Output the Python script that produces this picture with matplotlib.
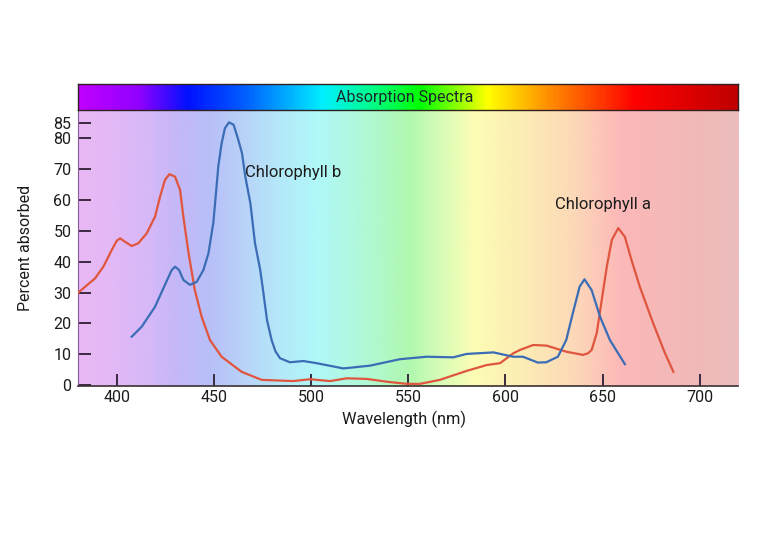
import numpy as np
import matplotlib
matplotlib.use("Agg")
import matplotlib.pyplot as plt
from matplotlib.colors import LinearSegmentedColormap

plt.rcParams['font.family'] = ['Roboto', 'DejaVu Sans']

# wavelength (nm) / percent absorbed
chl_a_nm = [380, 383.5, 388.6, 392.9, 397.2, 399.8, 401.5, 404, 407.5, 410.9, 415.2,
            419.5, 422.1, 424.6, 426.9, 429.8, 432.4, 434.1, 436.8, 440, 443.5, 447.8,
            453.8, 464.1, 474.4, 490.7, 499.3, 509.6, 518.2, 528.5, 538.8, 549.1, 556,
            566.2, 580, 590.3, 597.2, 604, 607.5, 614.3, 621.2, 631.5, 640, 642.5,
            644.4, 647, 649.6, 652.2, 654.8, 658.1, 661.5, 664.9, 669.2, 676.1, 682.2,
            686.5]
chl_a_pct = [30.0, 31.9, 34.6, 38.4, 43.8, 46.8, 47.6, 46.5, 45.1, 46.0, 49.2,
             54.6, 61.1, 66.5, 68.4, 67.6, 63.3, 54.6, 42.7, 30.8, 22.2, 14.6,
             9.2, 4.3, 1.7, 1.3, 1.9, 1.3, 2.2, 2.0, 1.1, 0.4, 0.4,
             1.7, 4.6, 6.5, 7.1, 10.3, 11.4, 13.0, 12.8, 10.8, 9.8, 10.3,
             11.4, 16.8, 27.6, 38.4, 47.1, 50.9, 48.1, 40.6, 31.9, 20.0, 10.3,
             4.3]

chl_b_nm = [407.5, 412.6, 419.5, 424.6, 428.1, 429.8, 431.9, 434.1, 437.5, 441, 444.4,
            447, 449.5, 451, 452.1, 453.8, 455.5, 457.6, 460, 462.4, 464.3, 466, 468.6,
            471, 473.7, 475.3, 477.2, 479.6, 481.5, 483.9, 489, 495.9, 502.8, 516.5,
            530.2, 545.7, 559.4, 573.1, 580, 593.8, 604, 609, 616.7, 621, 627, 631.3,
            634.7, 638.2, 640.7, 644.4, 648.7, 653.8, 661.5]
chl_b_pct = [15.7, 18.9, 25.4, 32.5, 37.3, 38.4, 37.3, 34.1, 32.5, 33.5, 37.3,
             42.7, 52.5, 63.0, 71.0, 78.4, 83.3, 85.2, 84.4, 79.5, 75.2, 67.6, 59.0,
             46.0, 37.3, 30.0, 21.0, 14.5, 11.0, 8.7, 7.4, 7.8, 7.1, 5.4,
             6.3, 8.4, 9.2, 9.0, 10.1, 10.6, 9.2, 9.2, 7.3, 7.4, 9.2, 14.6,
             23.3, 31.9, 34.3, 30.8, 22.2, 14.6, 6.8]

x_ticks = [400, 450, 500, 550, 600, 650, 700]
y_ticks = [0, 10, 20, 30, 40, 50, 60, 70, 80, 85]

# pastel spectrum behind the plot
bg_stops = [(380, '#e8b8f4'), (395, '#e4b8f6'), (414, '#d8b8f8'), (431, '#c4b8f8'),
            (448, '#b8c0f8'), (466, '#b8d4f8'), (483, '#b4e8f8'), (503, '#b0f8f8'),
            (526, '#b0f8d8'), (550, '#b0f8b0'), (567, '#d8fcb8'), (584, '#fcfcb4'),
            (610, '#fcecb4'), (636, '#fcd8b8'), (660, '#fcb8b8'), (687, '#f4b8b8'),
            (720, '#ecbcbc')]
# saturated spectrum in the title bar
bar_stops = [(380, '#c000ff'), (411, '#9000ff'), (436, '#0010ff'), (466, '#0060ff'),
             (506, '#00f0ff'), (533, '#00ff80'), (556, '#00ff00'), (578, '#a0ff00'),
             (591, '#ffff00'), (622, '#ff9000'), (667, '#ff0000'), (720, '#c00000')]

xmin, xmax = 380, 720
ymin, ymax = -0.3, 89.2


def make_cmap(stops, name):
    return LinearSegmentedColormap.from_list(
        name, [((w - xmin) / (xmax - xmin), c) for w, c in stops])


grad = np.linspace(xmin, xmax, 600).reshape(1, -1)

fig = plt.figure(figsize=(7.68, 5.38), dpi=100)
ax = fig.add_axes([0.102, 0.2825, 0.8595, 0.513])
bar = fig.add_axes([0.102, 0.7955, 0.8595, 0.0484])

ax.imshow(grad, cmap=make_cmap(bg_stops, 'bg'), extent=[xmin, xmax, ymin, ymax],
          aspect='auto', origin='lower', zorder=0)
ax.plot(chl_a_nm, chl_a_pct, color='#e0553d', lw=1.6, zorder=3,
        solid_joinstyle='round')
ax.plot(chl_b_nm, chl_b_pct, color='#3a6db5', lw=1.6, zorder=3,
        solid_joinstyle='round')

ax.text(465.8, 69.1, 'Chlorophyll b', fontsize=12, color='#1c1c1c', va='center')
ax.text(625.4, 58.4, 'Chlorophyll a', fontsize=12, color='#1c1c1c', va='center')

ax.set_xlim(xmin, xmax)
ax.set_ylim(ymin, ymax)
ax.set_xticks(x_ticks)
ax.set_yticks(y_ticks)
ax.tick_params(direction='in', length=9, width=1.4, color='#3a2a40',
               labelsize=11.5, labelcolor='#1c1c1c')
ax.tick_params(axis='x', pad=3)
ax.tick_params(axis='y', pad=5)
for s in ['top', 'right']:
    ax.spines[s].set_visible(False)
ax.spines['bottom'].set_color('#3a3030')
ax.spines['bottom'].set_linewidth(1.2)
ax.spines['left'].set_color('#8a5aa0')
ax.spines['left'].set_linewidth(0.8)

ax.set_xlabel('Wavelength (nm)', fontsize=11.8, color='#1c1c1c')
ax.set_ylabel('Percent absorbed', fontsize=11.5, color='#1c1c1c')
ax.xaxis.set_label_coords(0.493, -0.09)
ax.yaxis.set_label_coords(-0.068, 0.5)

bar.imshow(grad, cmap=make_cmap(bar_stops, 'bar'), extent=[xmin, xmax, 0, 1],
           aspect='auto')
bar.set_xticks([])
bar.set_yticks([])
for s in bar.spines.values():
    s.set_color('#302020')
    s.set_linewidth(1.0)
bar.text(0.495, 0.5, 'Absorption Spectra', transform=bar.transAxes, fontsize=11.5,
         ha='center', va='center', color='#1a2a2a')

fig.savefig('out.png', dpi=100)
